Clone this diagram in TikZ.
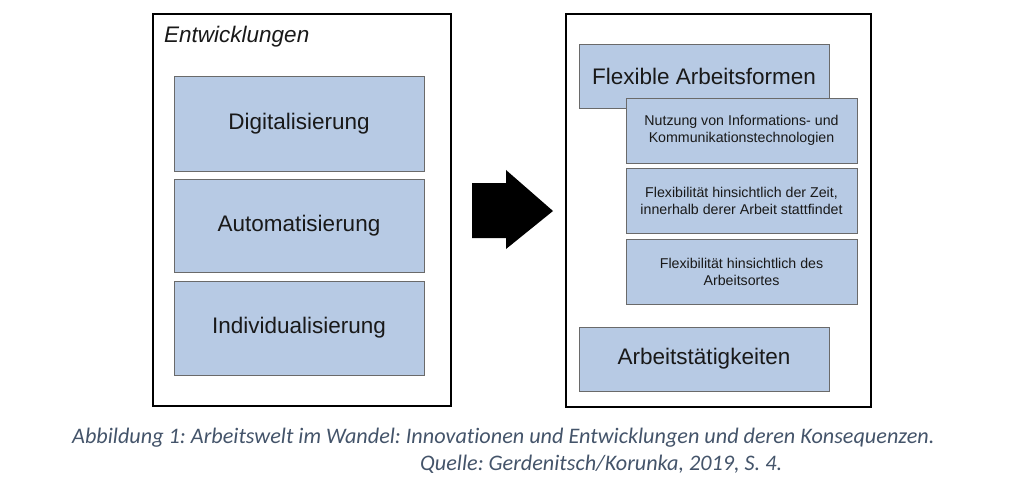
\documentclass[tikz,border=0pt]{standalone}
\usepackage{fontspec}
\setmainfont{Liberation Sans}
\newfontfamily\capfont[Ligatures=NoCommon]{Carlito}
\definecolor{boxblue}{HTML}{B7CAE4}
\definecolor{boxline}{HTML}{6A6A6A}
\definecolor{captext}{HTML}{44546A}
\frenchspacing

\begin{document}
\begin{tikzpicture}[x=1pt,y=-1pt,
		frame/.style={draw=black,line width=2pt,fill=white,inner sep=0pt},
		bigbox/.style={draw=boxline,line width=0.8pt,fill=boxblue,inner sep=0pt,
			text=black!90,font=\fontsize{22.5}{27}\selectfont},
		smallbox/.style={draw=boxline,line width=0.8pt,fill=boxblue,inner sep=0pt,
			minimum width=231pt,minimum height=65pt,align=center,
			text=black!90,font=\fontsize{14.2}{17}\selectfont},
		caption/.style={inner sep=0pt,text=captext,font=\capfont\itshape\fontsize{22.2}{26}\selectfont}]
		\useasboundingbox (0,0) rectangle (1024,497);
		% frames
		\node[frame,minimum width=298pt,minimum height=392pt] (left) at (302,210) {};
		\node[frame,minimum width=305pt,minimum height=393pt] (right) at (718.5,210.5) {};
		\node[anchor=base west,inner sep=0pt,font=\itshape\fontsize{22.5}{27}\selectfont,text=black!90] (title) at (164,43) {Entwicklungen};
		% Entwicklungen
		\node[bigbox,minimum width=250pt,minimum height=95pt] (digi) at (299,123.5) {Digitalisierung};
		\node[bigbox,minimum width=250pt,minimum height=93pt] (auto) at (299,225.5) {Automatisierung};
		\node[bigbox,minimum width=250pt,minimum height=94pt] (indi) at (299,328) {Individualisierung};
		% arrow
		\fill[black] (472,183) -- (506,183) -- (506,170) -- (553,211) -- (506,249) -- (506,238) -- (472,238) -- cycle;
		% Konsequenzen
		\node[bigbox,minimum width=250pt,minimum height=64pt] (flex) at (704,76) {Flexible Arbeitsformen};
		\node[smallbox] (ikt) at (741.5,130.5) {Nutzung von Informations- und\\Kommunikationstechnologien};
		\node[smallbox] (zeit) at (741.5,200.5) {Flexibilität hinsichtlich der Zeit,\\innerhalb derer Arbeit stattfindet};
		\node[smallbox] (ort) at (741.5,271.5) {Flexibilität hinsichtlich des\\Arbeitsortes};
		\node[bigbox,minimum width=250pt,minimum height=64pt] (taet) at (704,359) {Arbeitstätigkeiten};
		% caption
		\node[caption,anchor=base west] (cap1) at (72,443) {Abbildung 1: Arbeitswelt im Wandel: Innovationen und Entwicklungen und deren Konsequenzen.};
		\node[caption,anchor=base west] (cap2) at (420,470) {Quelle: Gerdenitsch/Korunka, 2019, S. 4.};
	\end{tikzpicture}
\end{document}
